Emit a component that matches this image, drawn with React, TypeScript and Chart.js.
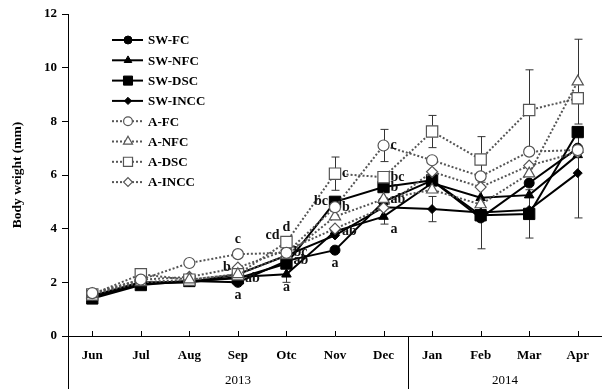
import React, { useEffect, useRef } from "react";
import { Chart, registerables } from "chart.js";
Chart.register(...registerables);

const months = ["Jun", "Jul", "Aug", "Sep", "Otc", "Nov", "Dec", "Jan", "Feb", "Mar", "Apr"];
const yearGroups = [
  { label: "2013", from: 0, to: 6 },
  { label: "2014", from: 7, to: 10 },
];
const yAxisTitle = "Body weight (mm)";

const swFC = [1.45, 1.95, 2.05, 2.0, 2.8, 3.2, 5.0, 5.8, 4.4, 5.7, 7.0];
const swNFC = [1.5, 1.95, 2.0, 2.2, 2.3, 3.9, 4.45, 5.7, 5.15, 5.25, 6.75];
const swDSC = [1.4, 1.9, 2.05, 2.15, 2.7, 5.0, 5.55, 5.8, 4.5, 4.55, 7.6];
const swINCC = [1.5, 2.0, 2.0, 2.3, 3.0, 3.75, 4.8, 4.73, 4.6, 4.7, 6.07];
const aFC = [1.6, 2.1, 2.72, 3.05, 3.1, 4.8, 7.1, 6.55, 5.95, 6.87, 6.93];
const aNFC = [1.55, 2.0, 2.1, 2.3, 3.0, 4.45, 5.1, 5.45, 4.9, 6.05, 9.48];
const aDSC = [1.55, 2.3, 2.1, 2.3, 3.5, 6.05, 5.92, 7.62, 6.58, 8.42, 8.86];
const aINCC = [1.55, 2.1, 2.2, 2.55, 3.2, 4.0, 4.78, 6.12, 5.55, 6.35, 6.85];

const errSwFC = [0, 0, 0, 0, 0, 0, 0, 0, 1.15, 0, 0];
const errSwNFC = [0, 0, 0, 0, 0.3, 0, 0.28, 0, 0, 0, 0];
const errSwDSC = [0, 0, 0, 0, 0, 0, 0, 0, 0, 0.9, 0];
const errSwINCC = [0, 0, 0, 0, 0, 0, 0, 0.47, 0, 0, 1.67];
const errAFC = [0, 0, 0, 0, 0, 0, 0.6, 0, 0, 0, 0];
const errANFC = [0, 0, 0, 0, 0, 0, 0, 0, 0, 0, 1.58];
const errADSC = [0, 0, 0, 0, 0, 0.62, 0, 0.6, 0.85, 1.5, 0];
const errAINCC = [0, 0, 0, 0, 0, 0, 0, 0, 0, 0, 0];

// significance letters: series label, month index, text, side
const letters: [string, number, string, string][] = [
  ["A-FC", 3, "c", "n"],
  ["A-INCC", 3, "b", "w"],
  ["SW-FC", 3, "a", "s"],
  ["SW-DSC", 3, "ab", "e"],
  ["A-DSC", 4, "d", "n"],
  ["A-INCC", 4, "cd", "nw"],
  ["A-FC", 4, "bc", "e"],
  ["SW-FC", 4, "ab", "e"],
  ["SW-NFC", 4, "a", "s"],
  ["A-DSC", 5, "c", "e"],
  ["SW-DSC", 5, "bc", "w"],
  ["A-FC", 5, "b", "e"],
  ["SW-NFC", 5, "ab", "e"],
  ["SW-FC", 5, "a", "s"],
  ["A-FC", 6, "c", "e"],
  ["A-DSC", 6, "bc", "e"],
  ["SW-DSC", 6, "b", "e"],
  ["A-NFC", 6, "ab", "e"],
  ["SW-NFC", 6, "a", "se"],
];

const SERIF = "'Liberation Serif', 'Times New Roman', serif";

function marker(ctx: CanvasRenderingContext2D, style: string, r: number, cx: number, cy: number) {
  ctx.beginPath();
  if (style === "circle") {
    ctx.arc(cx, cy, r, 0, Math.PI * 2);
  } else if (style === "triangle") {
    ctx.moveTo(cx, cy - r);
    ctx.lineTo(cx + r * 0.866, cy + r * 0.5);
    ctx.lineTo(cx - r * 0.866, cy + r * 0.5);
    ctx.closePath();
  } else if (style === "rect") {
    const s = r * Math.SQRT1_2;
    ctx.rect(cx - s, cy - s, 2 * s, 2 * s);
  } else {
    ctx.moveTo(cx, cy - r);
    ctx.lineTo(cx + r, cy);
    ctx.lineTo(cx, cy + r);
    ctx.lineTo(cx - r, cy);
    ctx.closePath();
  }
  ctx.fill();
  ctx.stroke();
}

export default function App() {
  const ref = useRef<HTMLCanvasElement | null>(null);
  useEffect(() => {
    document.body.style.margin = "0";
    const solid = (label: string, data: number[], err: number[], style: string, r: number) => ({
      label, data, err,
      borderColor: "#000", borderWidth: 2,
      pointStyle: style, pointRadius: r, pointBackgroundColor: "#000", pointBorderColor: "#000",
      pointBorderWidth: 1, order: 2, tension: 0,
    });
    const dotted = (label: string, data: number[], err: number[], style: string, r: number) => ({
      label, data, err,
      borderColor: "#555", borderWidth: 2, borderDash: [2, 2],
      pointStyle: style, pointRadius: r, pointBackgroundColor: "#fff", pointBorderColor: "#555",
      pointBorderWidth: 1.2, order: 1, tension: 0,
    });
    const datasets: any[] = [
      solid("SW-FC", swFC, errSwFC, "circle", 5),
      solid("SW-NFC", swNFC, errSwNFC, "triangle", 5.5),
      solid("SW-DSC", swDSC, errSwDSC, "rect", 8),
      solid("SW-INCC", swINCC, errSwINCC, "rectRot", 4.5),
      dotted("A-FC", aFC, errAFC, "circle", 5.5),
      dotted("A-NFC", aNFC, errANFC, "triangle", 6.5),
      dotted("A-DSC", aDSC, errADSC, "rect", 8),
      dotted("A-INCC", aINCC, errAINCC, "rectRot", 5.5),
    ];

    const extras = {
      id: "extras",
      beforeDatasetsDraw(chart: any) {
        const ctx = chart.ctx;
        const x = chart.scales.x, y = chart.scales.y;
        ctx.save();
        ctx.strokeStyle = "#333";
        ctx.lineWidth = 1;
        chart.data.datasets.forEach((ds: any) => {
          ds.data.forEach((v: number, i: number) => {
            const e = ds.err[i];
            if (!e) return;
            const px = Math.round(x.getPixelForValue(i)) + 0.5;
            const top = y.getPixelForValue(v + e);
            const bot = y.getPixelForValue(v - e);
            ctx.beginPath();
            ctx.moveTo(px, top); ctx.lineTo(px, bot);
            ctx.moveTo(px - 4, top); ctx.lineTo(px + 4, top);
            ctx.moveTo(px - 4, bot); ctx.lineTo(px + 4, bot);
            ctx.stroke();
          });
        });
        ctx.restore();
      },
      afterDraw(chart: any) {
        const ctx = chart.ctx;
        const x = chart.scales.x, y = chart.scales.y;
        const area = chart.chartArea;
        ctx.save();
        // inward x ticks
        ctx.strokeStyle = "#000";
        ctx.lineWidth = 1;
        months.forEach((_, i) => {
          const px = Math.round(x.getPixelForValue(i)) + 0.5;
          ctx.beginPath();
          ctx.moveTo(px, area.bottom);
          ctx.lineTo(px, area.bottom - 5);
          ctx.stroke();
        });
        // extended left line and year divider
        ctx.beginPath();
        ctx.moveTo(area.left + 0.5, area.bottom);
        ctx.lineTo(area.left + 0.5, chart.height);
        const div = Math.round((x.getPixelForValue(6) + x.getPixelForValue(7)) / 2) + 0.5;
        ctx.moveTo(div, area.bottom);
        ctx.lineTo(div, chart.height);
        ctx.stroke();
        // year labels
        ctx.fillStyle = "#000";
        ctx.font = `13px ${SERIF}`;
        ctx.textAlign = "center";
        ctx.textBaseline = "middle";
        yearGroups.forEach((g, gi) => {
          const l = gi === 0 ? area.left : (x.getPixelForValue(g.from) + x.getPixelForValue(g.from - 1)) / 2;
          const r = gi === yearGroups.length - 1 ? area.right : (x.getPixelForValue(g.to) + x.getPixelForValue(g.to + 1)) / 2;
          ctx.fillText(g.label, (l + r) / 2, chart.height - 8);
        });
        // y title
        ctx.save();
        ctx.translate(18, (area.top + area.bottom) / 2);
        ctx.rotate(-Math.PI / 2);
        ctx.font = `bold 13.5px ${SERIF}`;
        ctx.fillText(yAxisTitle, 0, 0);
        ctx.restore();
        // letters
        ctx.font = `bold 14px ${SERIF}`;
        ctx.fillStyle = "#111";
        letters.forEach(([lab, i, t, side]) => {
          const ds = chart.data.datasets.find((d: any) => d.label === lab);
          const px = x.getPixelForValue(i);
          const py = y.getPixelForValue(ds.data[i]);
          let dx = 0, dy = 0;
          let align: CanvasTextAlign = "center";
          if (side.includes("n")) dy = -15;
          if (side.includes("s")) dy = 13;
          if (side.includes("e")) { dx = 7; align = "left"; }
          if (side.includes("w")) { dx = -7; align = "right"; }
          ctx.textAlign = align;
          ctx.fillText(t, px + dx, py + dy);
        });
        // legend
        const lx0 = 112, lx1 = 143, lmid = 128, tx = 148;
        chart.data.datasets.forEach((ds: any, k: number) => {
          const ly = 40 + k * 20.3;
          ctx.save();
          ctx.strokeStyle = ds.borderColor;
          ctx.lineWidth = ds.borderWidth;
          ctx.setLineDash(ds.borderDash || []);
          ctx.beginPath();
          ctx.moveTo(lx0, ly); ctx.lineTo(lx1, ly);
          ctx.stroke();
          ctx.setLineDash([]);
          ctx.fillStyle = ds.pointBackgroundColor;
          ctx.strokeStyle = ds.pointBorderColor;
          ctx.lineWidth = ds.pointBorderWidth;
          marker(ctx, ds.pointStyle, ds.pointRadius * 0.8, lmid, ly);
          ctx.restore();
          ctx.fillStyle = "#000";
          ctx.font = `bold 13px ${SERIF}`;
          ctx.textAlign = "left";
          ctx.textBaseline = "middle";
          ctx.fillText(ds.label, tx, ly + 1);
        });
        ctx.restore();
      },
    };

    const chart = new Chart(ref.current as HTMLCanvasElement, {
      type: "line",
      data: { labels: months, datasets },
      options: {
        animation: false,
        responsive: false,
        maintainAspectRatio: false,
        layout: { autoPadding: false, padding: { top: 14, right: 0, left: 0, bottom: 0 } },
        plugins: { legend: { display: false }, tooltip: { enabled: false } },
        scales: {
          x: {
            type: "category",
            offset: true,
            afterFit: (s: any) => { s.height = 53; s.paddingLeft = 0; s.paddingRight = 0; },
            grid: { display: true, drawOnChartArea: false, drawTicks: false },
            border: { display: true, color: "#000", width: 1 },
            ticks: { color: "#000", font: { family: SERIF, size: 13, weight: "bold" }, padding: 12, maxRotation: 0, autoSkip: false },
          },
          y: {
            min: 0, max: 12,
            afterFit: (s: any) => { s.width = 68; s.paddingTop = 0; s.paddingBottom = 0; },
            grid: { display: true, drawOnChartArea: false, drawTicks: true, tickLength: 6, color: "#000" },
            border: { display: true, color: "#000", width: 1 },
            ticks: { stepSize: 2, color: "#000", font: { family: SERIF, size: 13, weight: "bold" }, padding: 5 },
          },
        },
      } as any,
      plugins: [extras],
    });
    return () => chart.destroy();
  }, []);
  return (
    <div style={{ width: 602, height: 389 }}>
      <canvas ref={ref} width={602} height={389} style={{ width: 602, height: 389, display: "block" }} />
    </div>
  );
}
